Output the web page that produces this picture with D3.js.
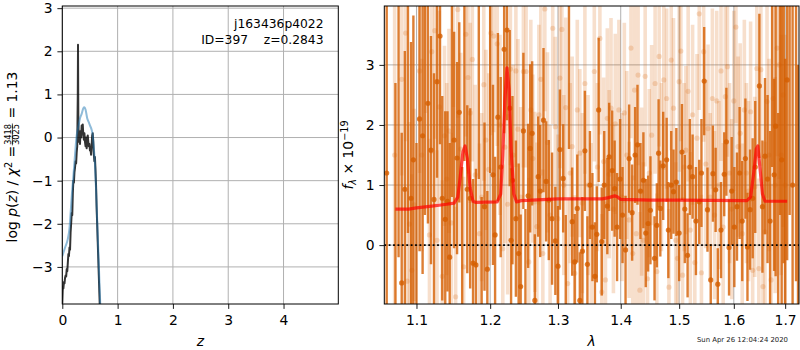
<!DOCTYPE html>
<html><head><meta charset="utf-8">
<script src="https://cdn.jsdelivr.net/npm/d3@7"></script>
<style>body{margin:0;background:#fff}svg text{font-family:"DejaVu Sans",sans-serif}</style>
</head><body><svg id="c" width="800" height="350"></svg>
<script>
// ---------- DATA ----------
// left panel: log p(z)
const zRaw = [0,0.01,0.02,0.03,0.04,0.05,0.06,0.07,0.08,0.09,0.10,0.11,0.12,0.13,0.14,0.15,0.16,0.17,0.18,0.19,0.20,0.21,0.22,0.23,0.24,0.25,0.26,0.27,0.28,0.284,0.29,0.30,0.31,0.32,0.33,0.34,0.35,0.36,0.37,0.38,0.39,0.40,0.41,0.42,0.43,0.44,0.45,0.46,0.47,0.48,0.49,0.50,0.51,0.52,0.53,0.54,0.55,0.56,0.57,0.58,0.59,0.60,0.61,0.62,0.63,0.64,0.65,0.66,0.67,0.68];
const logPzRaw = [-3.85,-3.45,-3.50,-3.35,-3.38,-3.25,-3.20,-3.22,-3.05,-3.10,-2.90,-2.70,-2.75,-2.55,-2.60,-2.20,-2.00,-1.75,-1.80,-1.30,-1.00,-1.05,-0.80,-0.70,-0.55,-0.60,-0.35,-0.20,1.00,2.15,0.40,-0.10,0.05,-0.15,0.15,0.00,0.28,0.10,0.30,0.05,-0.05,0.10,-0.10,-0.20,0.00,-0.25,-0.15,0.05,-0.10,-0.20,-0.15,-0.30,-0.25,-0.40,-0.20,0.05,0.10,-0.10,-0.40,-0.55,-0.45,-0.75,-1.10,-1.60,-2.00,-2.40,-2.80,-3.20,-3.60,-4.00];
const zSmooth = [0,0.05,0.10,0.13,0.15,0.18,0.20,0.23,0.26,0.29,0.32,0.35,0.38,0.40,0.42,0.45,0.48,0.50,0.53,0.55,0.57,0.59,0.61,0.63,0.65,0.67,0.69];
const logPzSmooth = [-2.75,-2.55,-2.35,-2.10,-1.75,-1.20,-0.90,-0.40,0.05,0.25,0.45,0.55,0.68,0.70,0.65,0.45,0.35,0.28,0.18,0.05,-0.25,-0.60,-1.20,-1.90,-2.60,-3.30,-4.00];
const zTicks = [0,1,2,3,4];
const pzTicks = [-3,-2,-1,0,1,2,3];

// right panel: spectrum
const darkWave = [1.062,1.073,1.077,1.081,1.085,1.089,1.093,1.096,1.100,1.104,1.108,1.111,1.115,1.119,1.123,1.127,1.131,1.134,1.138,1.141,1.144,1.147,1.150,1.154,1.157,1.161,1.164,1.168,1.172,1.176,1.180,1.184,1.188,1.192,1.196,1.200,1.204,1.207,1.211,1.215,1.220,1.224,1.228,1.230,1.232,1.237,1.241,1.244,1.248,1.251,1.255,1.258,1.261,1.265,1.270,1.273,1.278,1.282,1.286,1.291,1.296,1.300,1.303,1.308,1.312,1.317,1.322,1.326,1.330,1.334,1.338,1.342,1.346,1.350,1.354,1.358,1.361,1.364,1.369,1.373,1.378,1.381,1.386,1.390,1.394,1.399,1.403,1.408,1.414,1.419,1.424,1.428,1.433,1.438,1.442,1.446,1.450,1.457,1.461,1.464,1.467,1.472,1.478,1.481,1.486,1.490,1.495,1.500,1.505,1.510,1.515,1.519,1.524,1.530,1.536,1.540,1.545,1.551,1.557,1.561,1.566,1.570,1.576,1.582,1.586,1.591,1.596,1.601,1.606,1.611,1.616,1.622,1.626,1.631,1.636,1.641,1.649,1.655,1.660,1.665,1.670,1.674,1.678,1.681,1.686,1.690,1.693,1.697,1.700,1.704,1.709,1.715,1.722,1.726];
const darkFlux = [1.2,-1.2,4.4,-0.63,0.93,4.2,0.78,1.42,-1.3,2.10,1.82,4.5,2.36,1.58,0.76,2.72,3.48,0.78,0.43,0.73,-0.20,4.3,1.75,1.45,2.21,-1.1,4.2,0.93,0.78,-0.30,-0.33,4.1,-1.2,0.64,-0.40,4.4,1.17,0.17,2.13,1.30,3.26,3.58,2.28,0.08,1.08,0.44,-0.14,-0.69,1.90,-1.2,0.82,1.61,1.86,-0.92,1.14,0.90,2.08,1.06,0.75,0.44,0.07,-0.35,1.59,1.11,-1.1,4.1,0.39,-0.28,0.61,-0.92,-0.10,1.57,-0.32,1.0,0.3,-0.52,0.18,2.25,0.06,1.0,0.65,1.47,1.24,0.94,0.3,1.1,0.5,-0.08,1.44,0.54,1.50,1.67,0.9,1.08,0.2,0.36,0.58,-0.22,0.33,1.53,0.61,1.32,1.42,0.25,1.0,0.89,1.05,0.2,1.55,0.6,-0.17,1.3,1.14,0.4,0.72,1.2,2.73,0.59,-0.58,1.19,0.92,-0.65,0.25,1.18,1.72,-0.04,0.9,0.3,0.64,1.2,0.4,1.44,-0.03,0.59,0.78,1.3,2.65,0.64,1.48,1.10,0.4,4.3,1.17,1.98,-1.3,4.5,1.42,4.2,-1.4,2.75,4.5,1.0,4.4,-1.5];
const darkErr = [4.0,3.9,4.6,2.5,2.3,4.0,2.6,2.4,3.0,2.2,2.3,4.0,2.0,1.9,2.1,1.6,1.8,1.7,1.8,1.5,1.9,3.5,1.8,1.6,1.5,2.4,2.8,1.4,1.5,1.4,1.6,3.0,2.0,1.4,1.3,3.2,1.5,1.3,1.4,1.5,1.4,1.5,1.3,1.2,1.4,1.3,1.5,1.2,1.3,1.8,1.2,1.4,1.2,1.1,1.0,1.1,1.2,1.0,1.0,1.1,0.9,1.0,1.0,0.9,1.6,2.5,0.9,0.8,0.9,0.8,0.9,1.0,0.8,0.9,0.9,0.9,0.8,1.2,0.9,0.9,0.8,0.9,1.0,0.8,0.9,1.0,0.8,0.9,0.9,0.8,0.8,1.0,0.8,0.8,0.9,0.8,0.9,0.7,0.7,0.9,0.8,0.9,0.7,0.8,0.9,0.7,0.9,0.8,0.8,0.9,0.7,0.8,0.7,0.9,0.7,0.9,0.9,0.7,0.6,0.8,0.7,0.6,0.8,0.7,0.9,0.8,0.9,1.0,0.9,1.1,1.0,1.0,0.9,1.0,1.0,1.1,1.2,1.1,1.3,1.4,1.5,3.0,1.6,2.5,3.5,4.0,2.8,4.5,4.5,3.0,4.0,4.0,5.0,4.5];
const lightWave = [1.072,1.081,1.086,1.088,1.091,1.094,1.097,1.104,1.107,1.112,1.117,1.120,1.124,1.127,1.130,1.134,1.137,1.140,1.143,1.146,1.149,1.152,1.155,1.159,1.163,1.166,1.169,1.172,1.175,1.179,1.185,1.188,1.191,1.194,1.198,1.201,1.205,1.210,1.214,1.218,1.221,1.225,1.229,1.233,1.237,1.240,1.244,1.248,1.252,1.256,1.259,1.262,1.265,1.268,1.271,1.274,1.277,1.280,1.284,1.288,1.292,1.296,1.300,1.303,1.306,1.309,1.312,1.315,1.319,1.322,1.326,1.330,1.334,1.338,1.342,1.347,1.352,1.357,1.362,1.366,1.369,1.372,1.375,1.378,1.381,1.384,1.388,1.391,1.397,1.402,1.406,1.410,1.414,1.417,1.420,1.423,1.426,1.429,1.432,1.435,1.438,1.441,1.445,1.448,1.452,1.458,1.461,1.465,1.469,1.473,1.478,1.482,1.486,1.490,1.494,1.497,1.500,1.503,1.506,1.509,1.512,1.516,1.520,1.524,1.528,1.532,1.536,1.540,1.544,1.548,1.552,1.556,1.560,1.564,1.568,1.572,1.576,1.580,1.584,1.588,1.592,1.596,1.600,1.604,1.608,1.612,1.616,1.620,1.624,1.628,1.632,1.636,1.640,1.644,1.648,1.652,1.656,1.660,1.664,1.668,1.672,1.676,1.680,1.684,1.688,1.692,1.696,1.700];
const lightFlux = [1.5,2.76,3.53,-0.60,0.35,-0.42,0.67,2.90,1.50,4.2,0.17,3.22,3.57,0.08,2.3,-0.52,1.82,1.10,1.90,0.37,4.1,-0.86,3.92,1.6,-0.36,3.51,2.79,2.20,3.09,1.17,0.19,0.80,2.67,1.75,1.26,3.53,3.48,3.35,2.0,-0.06,1.63,0.68,2.93,1.5,2.90,1.93,0.8,2.89,2.89,-0.28,2.25,1.44,0.72,0.31,2.17,2.76,-0.14,3.93,1.71,0.5,3.61,1.97,0.44,2.78,3.59,1.0,2.29,-0.64,1.2,1.64,-0.47,2.25,1.53,0.7,2.69,1.0,0.3,2.89,1.3,3.44,-0.78,1.39,-0.58,2.11,1.18,2.28,0.6,2.02,2.25,0.8,2.20,1.50,0.42,3.28,-0.14,2.58,0.19,2.83,-0.75,0.89,0.08,2.81,-0.56,1.20,1.83,2.69,-0.44,3.14,1.3,2.75,2.44,-0.70,3.08,2.28,0.08,-0.22,2.72,3.23,-0.50,1.30,1.58,2.56,0.25,2.17,-0.29,1.78,3.85,-0.46,3.22,1.35,1.94,0.8,2.44,0.5,2.40,1.0,2.9,0.3,2.47,2.97,1.2,0.6,2.4,3.63,1.64,1.86,0.19,2.25,1.2,0.9,2.22,-0.42,0.97,2.94,-0.39,2.92,-0.69,0.22,2.39,1.5,-0.58,2.44,1.0,3.28,3.0,1.5,2.5,1.0];
const lightErr = [2.5,1.6,1.8,1.5,1.7,1.6,1.6,1.7,1.6,2.0,1.6,1.7,1.8,1.5,1.6,1.6,1.5,1.6,1.7,1.5,1.8,1.5,1.8,1.6,1.5,1.7,1.6,1.5,1.7,1.5,1.5,1.4,1.6,1.5,1.6,1.7,1.6,1.7,1.5,1.4,1.6,1.5,1.6,1.5,1.6,1.5,1.5,1.6,1.6,1.4,1.5,1.4,1.5,1.4,1.5,1.6,1.4,1.7,1.5,1.5,1.6,1.5,1.4,1.5,1.6,1.5,1.5,1.4,1.5,1.5,1.3,1.5,1.4,1.5,1.5,1.5,1.4,1.5,1.4,1.6,1.3,1.4,1.3,1.5,1.4,1.5,1.4,1.5,1.5,1.4,1.5,1.4,1.3,1.5,1.3,1.5,1.3,1.5,1.3,1.4,1.3,1.5,1.3,1.4,1.5,1.5,1.3,1.5,1.4,1.5,1.5,1.3,1.5,1.5,1.3,1.3,1.5,1.5,1.3,1.4,1.4,1.5,1.3,1.5,1.3,1.4,1.6,1.3,1.5,1.4,1.4,1.4,1.5,1.4,1.5,1.4,1.5,1.4,1.5,1.5,1.5,1.5,1.5,1.6,1.5,1.5,1.5,1.5,1.5,1.5,1.5,1.4,1.5,1.6,1.5,1.6,1.5,1.5,1.6,1.6,1.6,1.7,1.8,1.8,1.9,2.0,2.2,2.5];
const modelWave = [1.073,1.09,1.10,1.12,1.14,1.150,1.155,1.158,1.162,1.165,1.168,1.172,1.176,1.18,1.21,1.215,1.218,1.221,1.224,1.227,1.230,1.234,1.238,1.245,1.30,1.37,1.38,1.39,1.395,1.40,1.45,1.50,1.625,1.632,1.638,1.643,1.646,1.650,1.655,1.66,1.704];
const modelFlux = [0.60,0.60,0.62,0.65,0.68,0.70,0.80,1.10,1.55,1.65,1.45,0.95,0.73,0.71,0.72,0.85,1.50,2.40,2.95,2.60,1.60,0.85,0.72,0.74,0.77,0.77,0.79,0.82,0.80,0.76,0.75,0.75,0.74,0.80,1.20,1.60,1.65,1.30,0.85,0.73,0.73];
const waveTicks = [1.1,1.2,1.3,1.4,1.5,1.6,1.7];
const fluxTicks = [0,1,2,3];

// ---------- DRAW ----------
const svg = d3.select('#c');
const FS = 13.9;
const ORANGE = '#d55e00';
const GRID = '#b0b0b0';

function frame(x0,x1,y0,y1,id){
  svg.append('clipPath').attr('id',id).append('rect')
    .attr('x',x0).attr('y',y0).attr('width',x1-x0).attr('height',y1-y0);
}
function styleAxis(g){
  g.select('.domain').remove();
  g.selectAll('.tick line').attr('stroke','#000').attr('stroke-width',0.9);
  g.selectAll('.tick text').attr('font-size',FS).attr('fill','#000')
    .attr('font-family','"DejaVu Sans",sans-serif');
}

// Left panel
const L = {x0:62.3,x1:338.3,y0:6,y1:304};
frame(L.x0,L.x1,L.y0,L.y1,'clipL');
const xz = d3.scaleLinear().domain([0,4.99]).range([L.x0,L.x1]);
const yz = d3.scaleLinear().domain([-3.86,3.05]).range([L.y1,L.y0]);
const gl = svg.append('g');
gl.selectAll('.gx').data(zTicks).join('line').attr('x1',d=>xz(d)).attr('x2',d=>xz(d))
  .attr('y1',L.y0).attr('y2',L.y1).attr('stroke',GRID).attr('stroke-width',1);
gl.selectAll('.gy').data(pzTicks).join('line').attr('y1',d=>yz(d)).attr('y2',d=>yz(d))
  .attr('x1',L.x0).attr('x2',L.x1).attr('stroke',GRID).attr('stroke-width',1);
const cl = svg.append('g').attr('clip-path','url(#clipL)');
cl.append('path').datum(d3.range(zRaw.length))
  .attr('d',d3.line().x(i=>xz(zRaw[i])).y(i=>yz(logPzRaw[i])))
  .attr('fill','none').attr('stroke','#000').attr('stroke-opacity',0.8).attr('stroke-width',2).attr('stroke-linejoin','round');
cl.append('path').datum(d3.range(zSmooth.length))
  .attr('d',d3.line().curve(d3.curveMonotoneX).x(i=>xz(zSmooth[i])).y(i=>yz(logPzSmooth[i])))
  .attr('fill','none').attr('stroke','#1f77b4').attr('stroke-opacity',0.5).attr('stroke-width',2);
svg.append('rect').attr('x',L.x0).attr('y',L.y0).attr('width',L.x1-L.x0).attr('height',L.y1-L.y0)
  .attr('fill','none').attr('stroke','#000').attr('stroke-width',1);
svg.append('g').attr('transform',`translate(0,${L.y1})`)
  .call(d3.axisBottom(xz).tickValues(zTicks).tickSize(4.9).tickPadding(4.9).tickFormat(d3.format('d')))
  .call(styleAxis).call(g=>g.selectAll('.tick text').attr('dy','0.8em'));
svg.append('g').attr('transform',`translate(${L.x0},0)`)
  .call(d3.axisLeft(yz).tickValues(pzTicks).tickSize(4.9).tickPadding(4.9).tickFormat(d3.format('d')))
  .call(styleAxis);

// annotation
svg.append('text').attr('x',323.5).attr('y',28).attr('text-anchor','end').attr('font-size',12.3).text('j163436p4022');
svg.append('text').attr('x',323.5).attr('y',43.5).attr('text-anchor','end').attr('font-size',12.3)
  .style('white-space','pre').text('ID=397    z=0.2843');
// x label
svg.append('text').attr('x',(L.x0+L.x1)/2).attr('y',345.5).attr('text-anchor','middle')
  .attr('font-size',FS).attr('font-style','italic').text('z');
// y label with fraction
{
  const g = svg.append('g');
  const t1 = g.append('text').attr('x',0).attr('y',0).attr('font-size',FS);
  t1.append('tspan').text('log ');
  t1.append('tspan').attr('font-style','italic').text('p');
  t1.append('tspan').text('(');
  t1.append('tspan').attr('font-style','italic').text('z');
  t1.append('tspan').text(') / ');
  t1.append('tspan').attr('font-style','italic').text('χ');
  t1.append('tspan').attr('font-size',9.7).attr('dy',-5.5).text('2');
  t1.append('tspan').attr('dy',5.5).text(' = ');
  const w1 = t1.node().getComputedTextLength();
  const fs2 = 8.2;
  const num = g.append('text').attr('font-size',fs2).attr('y',-6.3).text('3418');
  const den = g.append('text').attr('font-size',fs2).attr('y',2.4).text('3025');
  const wn = Math.max(num.node().getComputedTextLength(), den.node().getComputedTextLength());
  num.attr('x',w1+1); den.attr('x',w1+1);
  g.append('line').attr('x1',w1+0.5).attr('x2',w1+wn+1.5).attr('y1',-4.6).attr('y2',-4.6).attr('stroke','#000').attr('stroke-width',0.7);
  const t3 = g.append('text').attr('font-size',FS).attr('x',w1+wn+2).attr('y',0).style('white-space','pre').text(' = 1.13');
  const tot = w1+wn+2+t3.node().getComputedTextLength();
  g.attr('transform',`translate(17,${157+tot/2}) rotate(-90)`);
}

// Right panel
const R = {x0:384.3,x1:799,y0:6,y1:304};
frame(R.x0,R.x1,R.y0,R.y1,'clipR');
const xl = d3.scaleLog().domain([1.059,1.728]).range([R.x0,R.x1]);
const yl = d3.scaleLinear().domain([-0.98,3.98]).range([R.y1,R.y0]);
const gr = svg.append('g');
gr.selectAll('.gx').data(waveTicks).join('line').attr('x1',d=>xl(d)).attr('x2',d=>xl(d))
  .attr('y1',R.y0).attr('y2',R.y1).attr('stroke',GRID).attr('stroke-width',1);
gr.selectAll('.gy').data(fluxTicks).join('line').attr('y1',d=>yl(d)).attr('y2',d=>yl(d))
  .attr('x1',R.x0).attr('x2',R.x1).attr('stroke',GRID).attr('stroke-width',1);
const cr = svg.append('g').attr('clip-path','url(#clipR)');
// light spectrum
const lg = cr.append('g');
lg.selectAll('line').data(d3.range(lightWave.length)).join('line')
  .attr('x1',i=>xl(lightWave[i])).attr('x2',i=>xl(lightWave[i]))
  .attr('y1',i=>yl(lightFlux[i]-lightErr[i])).attr('y2',i=>yl(lightFlux[i]+lightErr[i]))
  .attr('stroke',ORANGE).attr('stroke-opacity',0.2).attr('stroke-width',3.6);
lg.selectAll('circle').data(d3.range(lightWave.length)).join('circle')
  .attr('cx',i=>xl(lightWave[i])).attr('cy',i=>yl(lightFlux[i])).attr('r',2.6)
  .attr('fill',ORANGE).attr('fill-opacity',0.2);
// dark spectrum
const dg = cr.append('g');
dg.selectAll('line').data(d3.range(darkWave.length)).join('line')
  .attr('x1',i=>xl(darkWave[i])).attr('x2',i=>xl(darkWave[i]))
  .attr('y1',i=>yl(darkFlux[i]-darkErr[i])).attr('y2',i=>yl(darkFlux[i]+darkErr[i]))
  .attr('stroke',ORANGE).attr('stroke-opacity',0.8).attr('stroke-width',2.4);
dg.selectAll('circle').data(d3.range(darkWave.length)).join('circle')
  .attr('cx',i=>xl(darkWave[i])).attr('cy',i=>yl(darkFlux[i])).attr('r',2.6)
  .attr('fill',ORANGE).attr('fill-opacity',0.8);
// zero line
cr.append('line').attr('x1',R.x0).attr('x2',R.x1).attr('y1',yl(0)).attr('y2',yl(0))
  .attr('stroke','#000').attr('stroke-width',1.8).attr('stroke-dasharray','1.8,2.6');
// model
cr.append('path').datum(d3.range(modelWave.length))
  .attr('d',d3.line().x(i=>xl(modelWave[i])).y(i=>yl(modelFlux[i])))
  .attr('fill','none').attr('stroke','#ff0000').attr('stroke-opacity',0.7).attr('stroke-width',3.2).attr('stroke-linejoin','round');
svg.append('rect').attr('x',R.x0).attr('y',R.y0).attr('width',R.x1-R.x0).attr('height',R.y1-R.y0)
  .attr('fill','none').attr('stroke','#000').attr('stroke-width',1);
svg.append('g').attr('transform',`translate(0,${R.y1})`)
  .call(d3.axisBottom(xl).tickValues(waveTicks).tickSize(4.9).tickPadding(4.9).tickFormat(d3.format('.1f')))
  .call(styleAxis).call(g=>g.selectAll('.tick text').attr('dy','0.8em'));
svg.append('g').attr('transform',`translate(${R.x0},0)`)
  .call(d3.axisLeft(yl).tickValues(fluxTicks).tickSize(4.9).tickPadding(4.9).tickFormat(d3.format('d')))
  .call(styleAxis);
svg.append('text').attr('x',(R.x0+R.x1)/2).attr('y',345.5).attr('text-anchor','middle')
  .attr('font-size',FS).attr('font-style','italic').text('λ');
{
  const t = svg.append('text').attr('font-size',FS).attr('text-anchor','middle')
    .attr('transform','translate(353,155) rotate(-90)');
  t.append('tspan').attr('font-style','italic').text('f');
  t.append('tspan').attr('font-style','italic').attr('font-size',9.7).attr('dy',3).text('λ');
  t.append('tspan').attr('dy',-3).style('white-space','pre').text(' × 10');
  t.append('tspan').attr('font-size',9.7).attr('dy',-5.5).text('−19');
}
svg.append('text').attr('x',788).attr('y',342).attr('text-anchor','end').attr('font-size',6.9)
  .attr('fill','#222').text('Sun Apr 26 12:04:24 2020');
</script>
</body></html>
